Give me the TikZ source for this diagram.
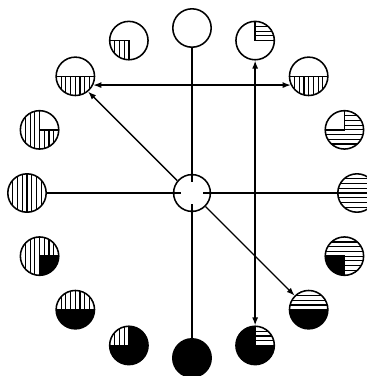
\documentclass[tikz,border=0pt]{standalone}
\usetikzlibrary{arrows.meta}

\tikzset{
  rim/.style={line width=1.1pt},
  hatch/.style={line width=0.85pt},
  link/.style={line width=1pt},
  disc/.style={circle, draw, rim, minimum size=0.96cm, inner sep=0pt},
}
\newcommand{\ringr}{4.125}
% sectors inside a disc: #1 start angle, #2 span
\newcommand{\vpart}[2]{%
  \begin{scope}[shift={(path picture bounding box.center)}]
    \begin{scope}
      \clip (0,0) -- (#1:1) arc[start angle=#1, delta angle=#2, radius=1] -- cycle;
      \foreach \k in {-3,...,3} \draw[hatch] (\k*0.118,-1) -- (\k*0.118,1);
    \end{scope}
    \draw[rim] (#1:1) -- (0,0) -- (#1+#2:1);
  \end{scope}}
\newcommand{\hpart}[2]{%
  \begin{scope}[shift={(path picture bounding box.center)}]
    \begin{scope}
      \clip (0,0) -- (#1:1) arc[start angle=#1, delta angle=#2, radius=1] -- cycle;
      \foreach \k in {-3,...,3} \draw[hatch] (-1,\k*0.118) -- (1,\k*0.118);
    \end{scope}
    \draw[rim] (#1:1) -- (0,0) -- (#1+#2:1);
  \end{scope}}
\newcommand{\bpart}[2]{%
  \fill[black, shift={(path picture bounding box.center)}]
    (0,0) -- (#1:1) arc[start angle=#1, delta angle=#2, radius=1] -- cycle;}
% whole disc hatched
\newcommand{\vall}{\foreach \k in {-3,...,3}
  \draw[hatch, shift={(path picture bounding box.center)}] (\k*0.118,-1) -- (\k*0.118,1);}
\newcommand{\hall}{\foreach \k in {-3,...,3}
  \draw[hatch, shift={(path picture bounding box.center)}] (-1,\k*0.118) -- (1,\k*0.118);}

\begin{document}
\begin{tikzpicture}[>={Latex[length=2mm,width=1.5mm]}]
  \useasboundingbox (-4.8,-4.575) rectangle (4.375,4.825);

  \node[circle, draw, rim, minimum size=0.92cm, inner sep=0pt] (ctr) at (0,0) {};

  % ring of discs, counter-clockwise from the right
  \node[disc, path picture={\hall}] (c0) at (0:\ringr) {};
  \node[disc, path picture={\hpart{180}{270}}] (c22) at (22.5:\ringr) {};
  \node[disc, path picture={\vpart{180}{180}}] (c45) at (45:\ringr) {};
  \node[disc, path picture={\hpart{0}{90}}] (c67) at (67.5:\ringr) {};
  \node[disc] (c90) at (90:\ringr) {};
  \node[disc, path picture={\vpart{180}{90}}] (c112) at (112.5:\ringr) {};
  \node[disc, path picture={\vpart{180}{180}}] (c135) at (135:\ringr) {};
  \node[disc, path picture={\vpart{90}{270}}] (c157) at (157.5:\ringr) {};
  \node[disc, path picture={\vall}] (c180) at (180:\ringr) {};
  \node[disc, path picture={\bpart{270}{90}\vpart{0}{270}}] (c202) at (202.5:\ringr) {};
  \node[disc, path picture={\bpart{180}{180}\vpart{0}{180}}] (c225) at (225:\ringr) {};
  \node[disc, path picture={\bpart{180}{270}\vpart{90}{90}}] (c247) at (247.5:\ringr) {};
  \node[disc, fill=black] (c270) at (270:\ringr) {};
  \node[disc, path picture={\bpart{90}{270}\hpart{0}{90}}] (c292) at (292.5:\ringr) {};
  \node[disc, path picture={\bpart{180}{180}\hpart{0}{180}}] (c315) at (315:\ringr) {};
  \node[disc, path picture={\bpart{180}{90}\hpart{270}{270}}] (c337) at (337.5:\ringr) {};

  % axes into the centre
  \foreach \n in {c0, c90, c180, c270}
    \draw[link, shorten >=0.28cm] (\n) -- (ctr.center);

  % arrows
  \draw[link, <->] (c135.-26) -- (c45.206);
  \draw[link, <->] (c67.south) -- (c292.north);
  \draw[link, ->] (ctr.140) -- (c135.-50);
  \draw[link, ->] (ctr.-45) -- (c315.135);
\end{tikzpicture}
\end{document}
